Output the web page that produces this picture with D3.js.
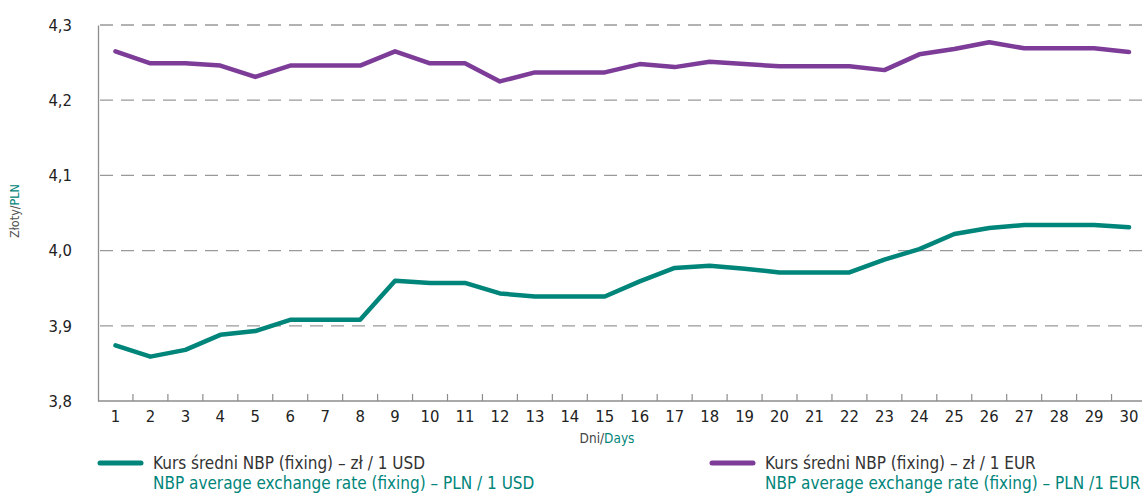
<!DOCTYPE html>
<html>
<head>
<meta charset="utf-8">
<script src="https://cdn.jsdelivr.net/npm/d3@7"></script>
<style>
  body { margin: 0; background: #fff; }
  text { font-family: "Liberation Sans Narrow", "DejaVu Sans Condensed", sans-serif; }
</style>
</head>
<body>
<div id="chart"></div>
<script>
// days of the month
var days = d3.range(1, 31);
// kurs USD (zl / 1 USD)
var usd = [3.874, 3.859, 3.868, 3.888, 3.893, 3.908, 3.908, 3.908, 3.960, 3.957,
           3.957, 3.943, 3.939, 3.939, 3.939, 3.959, 3.977, 3.980, 3.976, 3.971,
           3.971, 3.971, 3.988, 4.002, 4.022, 4.030, 4.034, 4.034, 4.034, 4.031];
// kurs EUR (zl / 1 EUR)
var eur = [4.265, 4.249, 4.249, 4.246, 4.231, 4.246, 4.246, 4.246, 4.265, 4.249,
           4.249, 4.225, 4.237, 4.237, 4.237, 4.248, 4.244, 4.251, 4.248, 4.245,
           4.245, 4.245, 4.240, 4.261, 4.268, 4.277, 4.269, 4.269, 4.269, 4.264];
var yTicks = [3.8, 3.9, 4.0, 4.1, 4.2, 4.3];

var W = 1142, H = 494;
var teal = "#00857a", purple = "#7d3c98", grey = "#8c8c8c";

var svg = d3.select("#chart").append("svg").attr("width", W).attr("height", H);

var x = d3.scaleBand().domain(days).range([98, 1146.5]);
var y = d3.scaleLinear().domain([3.8, 4.3]).range([401, 25]);

// gridlines (dashed)
svg.selectAll("line.grid")
  .data(yTicks.slice(1))
  .enter().append("line")
    .attr("x1", 100).attr("x2", W)
    .attr("y1", function (d) { return y(d); })
    .attr("y2", function (d) { return y(d); })
    .attr("stroke", "#999")
    .attr("stroke-width", 1.3)
    .attr("stroke-dasharray", "13,8");

// y axis
var yAxis = svg.append("g")
  .attr("transform", "translate(98,0)")
  .call(d3.axisLeft(y).tickValues(yTicks).tickSize(0).tickPadding(26)
    .tickFormat(function (d) { return d.toFixed(1).replace(".", ","); }));
yAxis.select(".domain").attr("stroke", grey).attr("stroke-width", 1.3);
yAxis.selectAll("text").attr("font-size", "16.5px").attr("fill", "#222")
  .style("font-family", "'Liberation Sans Narrow', 'DejaVu Sans Condensed', sans-serif");

// x axis
var xAxis = svg.append("g")
  .attr("transform", "translate(0,401)")
  .call(d3.axisBottom(x).tickSize(0).tickPadding(9));
xAxis.select(".domain").attr("d", "M98,0H" + W).attr("stroke", grey).attr("stroke-width", 1.3);
xAxis.selectAll("text").attr("font-size", "16.5px").attr("fill", "#222")
  .style("font-family", "'Liberation Sans Narrow', 'DejaVu Sans Condensed', sans-serif");

// small tick marks between days
svg.selectAll("line.xtick")
  .data(days.slice(1))
  .enter().append("line")
    .attr("x1", function (d) { return x(d); })
    .attr("x2", function (d) { return x(d); })
    .attr("y1", 401).attr("y2", 394)
    .attr("stroke", grey).attr("stroke-width", 1.2);

// lines
var line = d3.line()
  .x(function (d, i) { return x(days[i]) + x.bandwidth() / 2; })
  .y(function (d) { return y(d); });

[[eur, purple], [usd, teal]].forEach(function (s) {
  svg.append("path")
    .attr("d", line(s[0]))
    .attr("fill", "none")
    .attr("stroke", s[1])
    .attr("stroke-width", 4.5)
    .attr("stroke-linejoin", "round")
    .attr("stroke-linecap", "round");
});

// axis titles
var yt = svg.append("text")
  .attr("transform", "translate(19,211) rotate(-90)")
  .attr("text-anchor", "middle")
  .attr("font-size", "12.5px");
yt.append("tspan").attr("fill", "#555").text("Złoty/");
yt.append("tspan").attr("fill", teal).text("PLN");

var xt = svg.append("text")
  .attr("x", 607).attr("y", 443)
  .attr("text-anchor", "middle")
  .attr("font-size", "13.5px");
xt.append("tspan").attr("fill", "#444").text("Dni/");
xt.append("tspan").attr("fill", teal).text("Days");

// legend
var legend = [
  { x: 100, color: teal, pl: "Kurs średni NBP (fixing) – zł / 1 USD", en: "NBP average exchange rate (fixing) – PLN / 1 USD" },
  { x: 712, color: purple, pl: "Kurs średni NBP (fixing) – zł / 1 EUR", en: "NBP average exchange rate (fixing) – PLN /1 EUR" }
];
legend.forEach(function (l) {
  svg.append("line")
    .attr("x1", l.x).attr("x2", l.x + 41)
    .attr("y1", 463).attr("y2", 463)
    .attr("stroke", l.color).attr("stroke-width", 5).attr("stroke-linecap", "round");
  svg.append("text").attr("x", l.x + 53).attr("y", 469)
    .attr("font-size", "17px").attr("fill", "#333").text(l.pl);
  svg.append("text").attr("x", l.x + 53).attr("y", 489)
    .attr("font-size", "17px").attr("fill", teal).text(l.en);
});
</script>
</body>
</html>
